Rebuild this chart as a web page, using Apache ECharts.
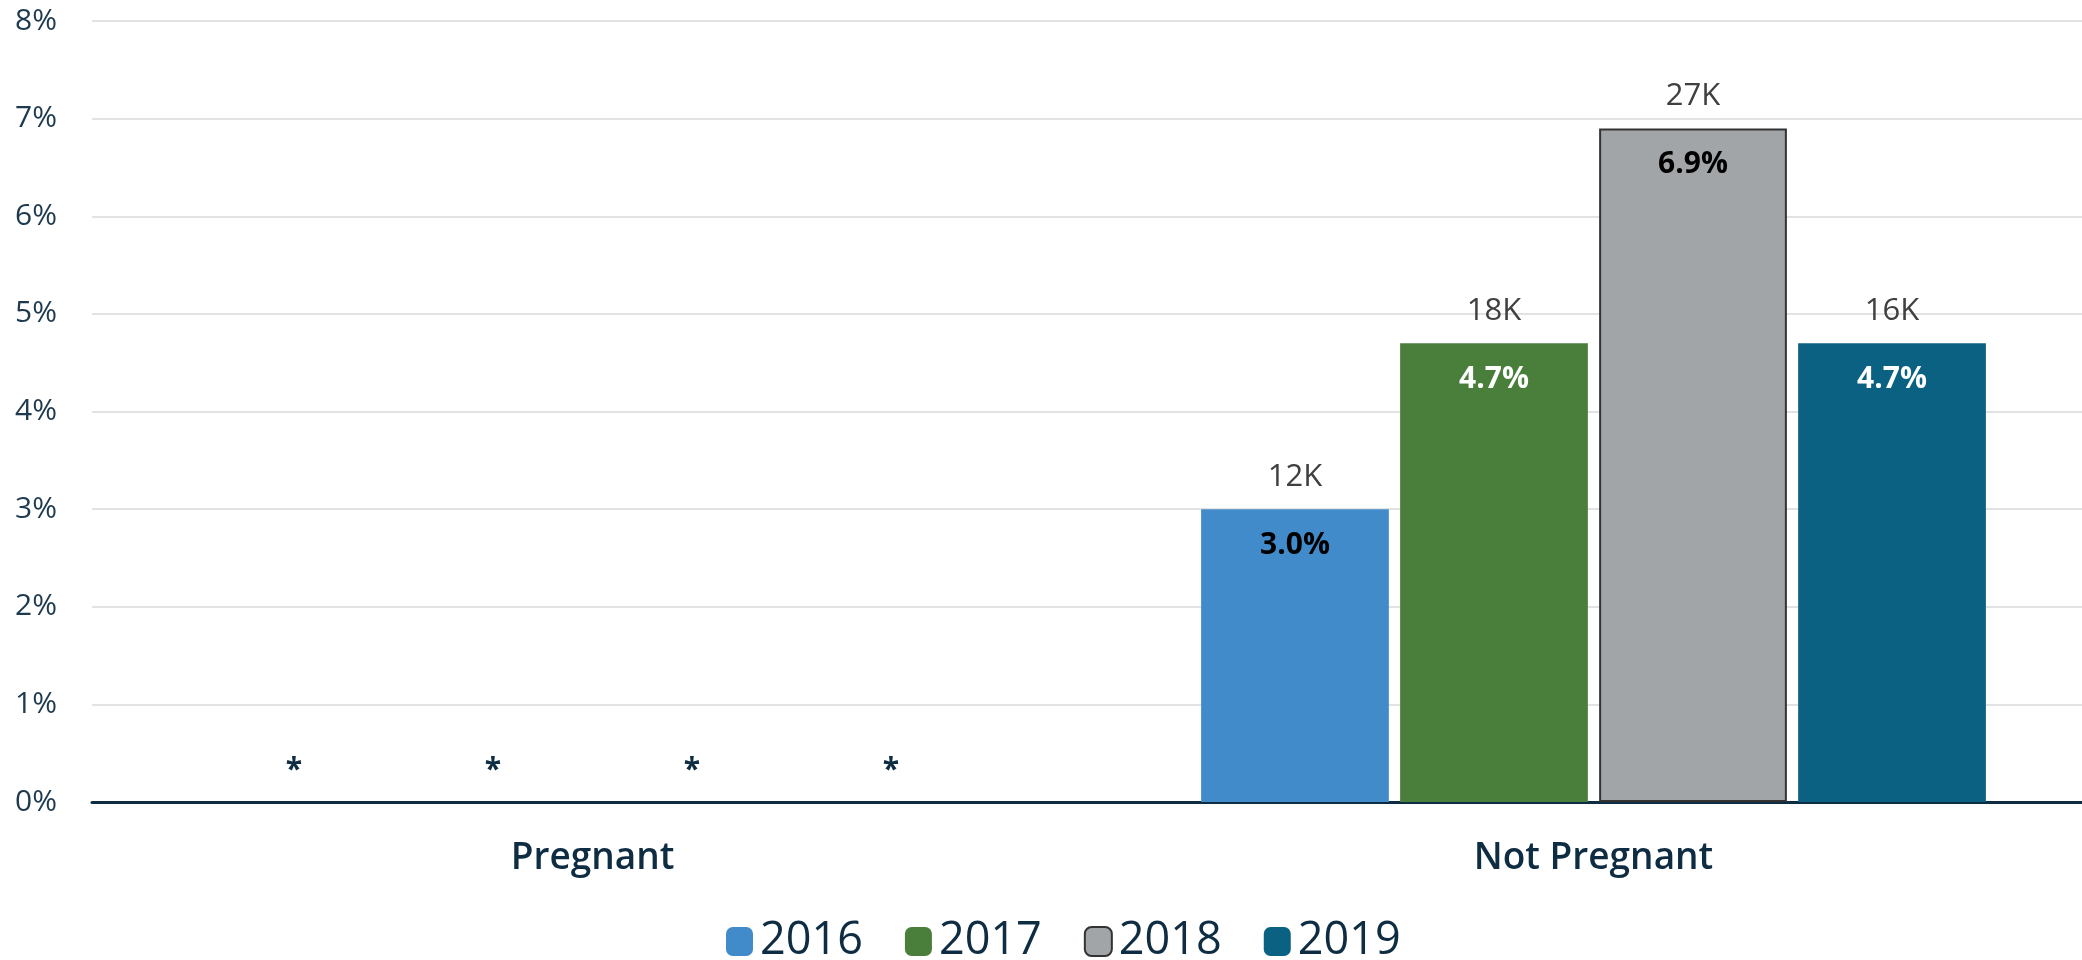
<!DOCTYPE html>
<html>
<head>
<meta charset="utf-8">
<title>Pregnant vs Not Pregnant</title>
<script src="https://cdn.jsdelivr.net/npm/echarts@6/dist/echarts.min.js"></script>
<style>
  html, body { margin: 0; padding: 0; background: #fff; }
  #main { width: 2082px; height: 960px; }
</style>
</head>
<body>
<div id="main"></div>
<script>
var categories = ['Pregnant', 'Not Pregnant'];
var years = ['2016', '2017', '2018', '2019'];

// percent values (null = suppressed, shown as *)
var pct2016 = [null, 3.0];
var pct2017 = [null, 4.7];
var pct2018 = [null, 6.9];
var pct2019 = [null, 4.7];

// counts shown above the bars
var cnt2016 = ['*', '12K'];
var cnt2017 = ['*', '18K'];
var cnt2018 = ['*', '27K'];
var cnt2019 = ['*', '16K'];

var yTicks = [0, 8, 1]; // min, max, interval

var myChart = echarts.init(document.getElementById('main'));

var fontFam = '"Open Sans", "Noto Sans", sans-serif';
var navy = '#0e2c42';

function makeSeries(name, pcts, counts, color, pctColor, border) {
    var data = [];
    for (var i = 0; i < pcts.length; i++) {
        var item = {
            value: pcts[i] === null ? 0 : pcts[i],
            cnt: counts[i],
            suppressed: pcts[i] === null
        };
        if (pcts[i] === null) {
            item.itemStyle = { borderWidth: 0 };
        }
        data.push(item);
    }
    return {
        name: name,
        type: 'bar',
        data: data,
        barGap: '6%',
        barCategoryGap: '21.6%',
        itemStyle: {
            color: color,
            borderColor: border || color,
            borderWidth: border ? 2 : 0
        },
        label: {
            show: true,
            position: ['50%', 0],
            align: 'center',
            verticalAlign: 'middle',
            offset: [0, 2],
            formatter: function (p) {
                if (p.data.suppressed) {
                    return '{s|*}\n{p| }';
                }
                return '{c|' + p.data.cnt + '}\n{p|' + p.value.toFixed(1) + '%}';
            },
            rich: {
                c: { fontFamily: fontFam, fontSize: 31, color: '#404040', lineHeight: 68, align: 'center' },
                p: { fontFamily: fontFam, fontSize: 30, fontWeight: 'bold', color: pctColor, lineHeight: 68, align: 'center' },
                s: { fontFamily: fontFam, fontSize: 30, fontWeight: 'bold', color: navy, lineHeight: 68, align: 'center' }
            }
        }
    };
}

var option = {
    backgroundColor: '#fff',
    animation: false,
    grid: {
        left: 92,
        width: 2002,
        top: 21,
        bottom: 158,
        outerBoundsMode: 'none'
    },
    legend: {
        data: years,
        left: 721,
        top: 914,
        itemWidth: 27,
        itemHeight: 29,
        itemGap: 42,
        textStyle: {
            fontFamily: fontFam,
            fontSize: 45,
            color: navy,
            padding: [0, 0, 0, 2]
        }
    },
    xAxis: {
        type: 'category',
        data: categories,
        axisTick: { show: false },
        axisLine: { show: true, lineStyle: { color: navy, width: 3 } },
        axisLabel: {
            fontFamily: fontFam,
            fontSize: 37,
            fontWeight: 600,
            color: navy,
            margin: 38
        }
    },
    yAxis: {
        type: 'value',
        min: yTicks[0],
        max: yTicks[1],
        interval: yTicks[2],
        axisLine: { show: false },
        axisTick: { show: false },
        splitLine: { lineStyle: { color: '#d9d9d9', width: 1.5 } },
        axisLabel: {
            fontFamily: fontFam,
            fontSize: 30,
            color: '#1e3a4e',
            margin: 35,
            formatter: '{value}%'
        }
    },
    series: [
        makeSeries('2016', pct2016, cnt2016, '#428bca', '#000000'),
        makeSeries('2017', pct2017, cnt2017, '#4a7f3b', '#ffffff'),
        makeSeries('2018', pct2018, cnt2018, '#a2a5a8', '#000000', '#333333'),
        makeSeries('2019', pct2019, cnt2019, '#0b6182', '#ffffff')
    ]
};

myChart.setOption(option);
</script>
</body>
</html>
